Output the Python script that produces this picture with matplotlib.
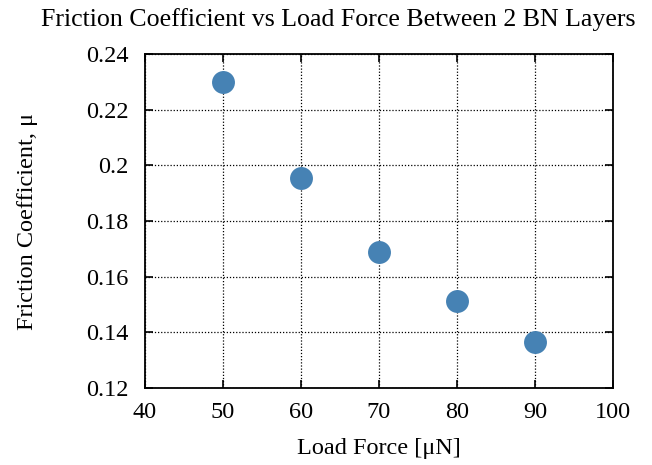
import matplotlib
matplotlib.use("Agg")
import matplotlib.pyplot as plt

load_force = [50, 60, 70, 80, 90]
friction = [0.2299, 0.1955, 0.1689, 0.1512, 0.1366]
x_ticks = [40, 50, 60, 70, 80, 90, 100]
y_ticks = [0.12, 0.14, 0.16, 0.18, 0.2, 0.22, 0.24]
y_tick_labels = ["0.12", "0.14", "0.16", "0.18", "0.2", "0.22", "0.24"]

plt.rcParams["font.family"] = ["Liberation Serif", "DejaVu Serif"]

fig = plt.figure(figsize=(6.52, 4.65), dpi=100)
ax = fig.add_axes([145 / 652, 1 - 388 / 465, (613 - 145) / 652, (388 - 54) / 465])

ax.plot(load_force, friction, linestyle="none", marker="o", markersize=16.5,
        color="#4682b4", markeredgewidth=0, zorder=3)

ax.set_xlim(40, 100)
ax.set_ylim(0.12, 0.24)
ax.set_xticks(x_ticks)
ax.set_yticks(y_ticks)
ax.set_yticklabels(y_tick_labels)
ax.tick_params(direction="in", length=6, width=1.2, top=True, right=True,
               labelsize=17.5, colors="black")
ax.tick_params(axis="y", pad=12)
ax.tick_params(axis="x", pad=10)
ax.grid(True, color="black", linestyle=(0, (1, 1.5)), linewidth=0.9)
for s in ax.spines.values():
    s.set_linewidth(1.3)

ax.set_xlabel("Load Force [μN]", fontsize=17.5, va="top")
ax.xaxis.set_label_coords(0.5, (388 - 438) / 334)
ax.set_ylabel("Friction Coefficient, μ", fontsize=17.5)
ax.yaxis.set_label_coords((38 - 145) / 468, 0.5)
fig.text(338 / 652, 1 - 20 / 465, "Friction Coefficient vs Load Force Between 2 BN Layers",
         ha="center", va="center", fontsize=18.6)

fig.savefig("out.png", dpi=100)
